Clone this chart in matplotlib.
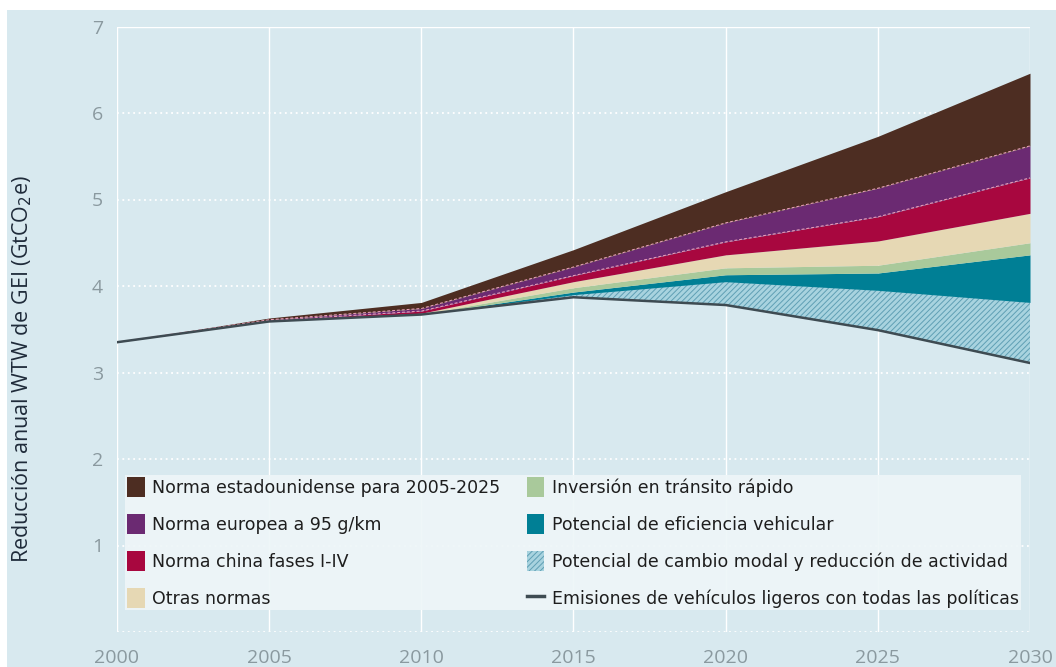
import numpy as np
import matplotlib
matplotlib.use('Agg')
import matplotlib.pyplot as plt
from matplotlib.patches import Patch, Rectangle
from matplotlib.lines import Line2D

plt.rcParams['font.family'] = ['Open Sans', 'DejaVu Sans']
plt.rcParams['hatch.linewidth'] = 0.7

# ── datos (GtCO2e) ───────────────────────────────────────
years = [2000, 2005, 2010, 2015, 2020, 2025, 2030]
baseline = [3.35, 3.59, 3.67, 3.87, 3.78, 3.49, 3.11]   # emisiones con todas las políticas
modal = [0, 0, 0, 0.03, 0.27, 0.46, 0.70]                # cambio modal y reducción de actividad
eficiencia = [0, 0, 0, 0.03, 0.08, 0.20, 0.55]
transito = [0, 0, 0.005, 0.05, 0.08, 0.09, 0.14]
otras = [0, 0.005, 0.01, 0.07, 0.15, 0.28, 0.34]
china = [0, 0.005, 0.025, 0.07, 0.15, 0.28, 0.41]
europa = [0, 0.01, 0.03, 0.10, 0.22, 0.33, 0.37]
eeuu = [0, 0.02, 0.07, 0.20, 0.36, 0.60, 0.84]

labels = ['Norma estadounidense para 2005-2025', 'Norma europea a 95 g/km',
          'Norma china fases I-IV', 'Otras normas', 'Inversión en tránsito rápido',
          'Potencial de eficiencia vehicular',
          'Potencial de cambio modal y reducción de actividad',
          'Emisiones de vehículos ligeros con todas las políticas']

bg = '#d8e9ef'
c_eeuu, c_eu, c_cn, c_otras = '#4d2d22', '#6b2a72', '#a8073f', '#e6d8b4'
c_trans, c_efic, c_modal = '#a9c99b', '#007f95', '#a8d3df'
c_hatch = '#5f9fb4'

fig = plt.figure(figsize=(10.56, 6.67), dpi=100, facecolor='white')
fig.patches.append(Rectangle((7 / 1056, 0), 1, 1 - 10 / 667, transform=fig.transFigure,
                             facecolor=bg, edgecolor='none', zorder=-10))
ax = fig.add_axes([117 / 1056, 1 - 632 / 667, 913 / 1056, 605.5 / 667])
ax.set_facecolor(bg)

x = np.array(years)
layers = [baseline, modal, eficiencia, transito, otras, china, europa, eeuu]
tops = np.cumsum(np.array(layers, dtype=float), axis=0)

# capas apiladas
ax.fill_between(x, tops[0], tops[1], facecolor=c_modal, edgecolor=c_hatch,
                hatch='//////', linewidth=0, zorder=2)
fills = [c_efic, c_trans, c_otras, c_cn, c_eu, c_eeuu]
for i, col in enumerate(fills):
    ax.fill_between(x, tops[i + 1], tops[i + 2], color=col, linewidth=0, zorder=2)

# líneas discontinuas claras entre capas
for k in (5, 6):
    ax.plot(x, tops[k], color='#efa3bd', lw=0.7, dashes=(3, 2), zorder=3)
ax.plot(x, tops[0], color='#3e4b52', lw=1.8, zorder=4)

# rejilla
for yr in range(2000, 2031, 5):
    ax.axvline(yr, color='white', lw=1.0, zorder=1)
for v in range(0, 7):
    ax.axhline(v, color='white', lw=1.3, linestyle=(0, (1, 2)), zorder=1)
ax.axhline(7, color='white', lw=1.0, zorder=1)

ax.set_xlim(2000, 2030)
ax.set_ylim(0, 7)
ax.set_xticks(range(2000, 2031, 5))
ax.set_yticks(range(1, 8))
ax.tick_params(length=0, colors='#8a999f', labelsize=14)
ax.tick_params(axis='x', pad=12)
ax.tick_params(axis='y', pad=10)
for s in ax.spines.values():
    s.set_visible(False)

fig.text(22 / 1056, 1 - 369 / 667, 'Reducción anual WTW de GEI (GtCO$_2$e)',
         rotation=90, ha='center', va='center', fontsize=15.5, color='#1f2b3a')

# leyenda
handles = [Patch(facecolor=c_eeuu), Patch(facecolor=c_eu), Patch(facecolor=c_cn),
           Patch(facecolor=c_otras), Patch(facecolor=c_trans), Patch(facecolor=c_efic),
           Patch(facecolor=c_modal, edgecolor=c_hatch, hatch='//////', linewidth=0),
           Line2D([0], [0], color='#3e4b52', lw=2.5)]
leg = ax.legend(handles, labels, ncol=2, loc='lower left',
                bbox_to_anchor=(0.009, 0.036),
                frameon=True, fancybox=False, labelspacing=0.98,
                handlelength=1.0, handleheight=1.4, handletextpad=0.45,
                columnspacing=1.5, borderpad=0.12, borderaxespad=0,
                prop={'family': ['DejaVu Sans'], 'size': 12.5})
leg.get_frame().set_facecolor('#eef6f8')
leg.get_frame().set_edgecolor('none')
leg.get_frame().set_alpha(0.92)
leg.set_zorder(5)
for t in leg.get_texts():
    t.set_color('#1e1e1e')

fig.savefig('out.png', dpi=100, facecolor=fig.get_facecolor())
